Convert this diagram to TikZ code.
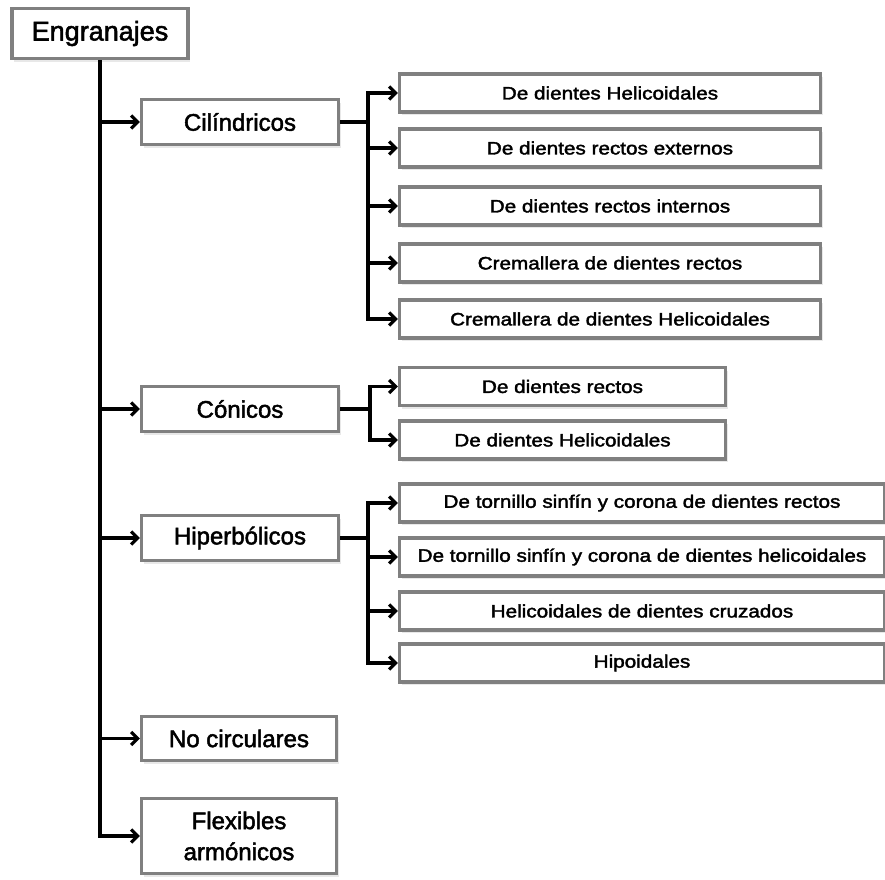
\documentclass[tikz,border=0pt]{standalone}
\usepackage{fontspec}
\setmainfont{Liberation Sans}
\newfontfamily\headfont[FakeBold=2]{Liberation Sans}
\newfontfamily\leaffont[FakeStretch=1.15,FakeBold=2]{Liberation Sans}
\usetikzlibrary{arrows.meta,shadows}
\definecolor{boxgray}{RGB}{128,128,128}
\tikzset{
  box/.style={draw=boxgray, line width=3.4pt, fill=white, inner sep=0pt,
    drop shadow={shadow xshift=2pt, shadow yshift=-3pt, opacity=0.18},
    text=black},
  rootbox/.style={box, font=\headfont\fontsize{27}{30}\selectfont},
  catbox/.style={box, font=\headfont\fontsize{24}{31}\selectfont, align=center},
  leafbox/.style={box, font=\leaffont\fontsize{18}{20}\selectfont},
  link/.style={line width=3.2pt, line join=miter},
  arr/.style={link, -{Straight Barb[length=6.5pt,width=13pt]}}
}
\begin{document}
\begin{tikzpicture}[x=1pt,y=-1pt]
  \fill[white] (0,0) rectangle (885,879);
  \useasboundingbox (0,0) rectangle (885,879);

  % root
  \node[rootbox, minimum width=176pt, minimum height=50pt] (root) at (100,33.5) {Engranajes};

  % first level
  \node[catbox, minimum width=197pt, minimum height=45pt] (cil) at (240,122) {Cilíndricos};
  \node[catbox, minimum width=197pt, minimum height=45pt] (con) at (240,409) {Cónicos};
  \node[catbox, minimum width=197pt, minimum height=45pt] (hip) at (240,538) {Hiperbólicos};
  \node[catbox, minimum width=195pt, minimum height=44pt] (noc) at (239,738.5) {No circulares};
  \node[catbox, minimum width=195pt, minimum height=75pt] (flex) at (239,836) {Flexibles\\armónicos};

  % cylindrical gears
  \node[leafbox, minimum width=421pt, minimum height=38pt] (c1) at (610,93) {De dientes Helicoidales};
  \node[leafbox, minimum width=421pt, minimum height=38pt] (c2) at (610,148) {De dientes rectos externos};
  \node[leafbox, minimum width=421pt, minimum height=38pt] (c3) at (610,206) {De dientes rectos internos};
  \node[leafbox, minimum width=421pt, minimum height=38pt] (c4) at (610,263) {Cremallera de dientes rectos};
  \node[leafbox, minimum width=421pt, minimum height=38pt] (c5) at (610,319) {Cremallera de dientes Helicoidales};

  % conical gears
  \node[leafbox, minimum width=326pt, minimum height=38pt] (o1) at (562.5,386.5) {De dientes rectos};
  \node[leafbox, minimum width=326pt, minimum height=38pt] (o2) at (562.5,440) {De dientes Helicoidales};

  % hyperbolic gears
  \node[leafbox, minimum width=485pt, minimum height=38pt] (h1) at (642,503) {De tornillo sinfín y corona de dientes rectos};
  \node[leafbox, minimum width=485pt, minimum height=38pt] (h2) at (642,557) {De tornillo sinfín y corona de dientes helicoidales};
  \node[leafbox, minimum width=485pt, minimum height=38pt] (h3) at (642,611) {Helicoidales de dientes cruzados};
  \node[leafbox, minimum width=485pt, minimum height=38pt] (h4) at (642,663) {Hipoidales};

  % trunk from the root to each category
  \foreach \n in {cil,con,hip,noc,flex}
    \draw[arr] (root.south) |- (\n.west);

  % branch junctions
  \coordinate (cj) at (368,122);
  \coordinate (oj) at (370,409);
  \coordinate (hj) at (368,538);

  \draw[link] (cil.east) -- (cj);
  \foreach \n in {c1,c2,c3,c4,c5}
    \draw[arr] (cj) |- (\n.west);

  \draw[link] (con.east) -- (oj);
  \foreach \n in {o1,o2}
    \draw[arr] (oj) |- (\n.west);

  \draw[link] (hip.east) -- (hj);
  \foreach \n in {h1,h2,h3,h4}
    \draw[arr] (hj) |- (\n.west);
\end{tikzpicture}
\end{document}
